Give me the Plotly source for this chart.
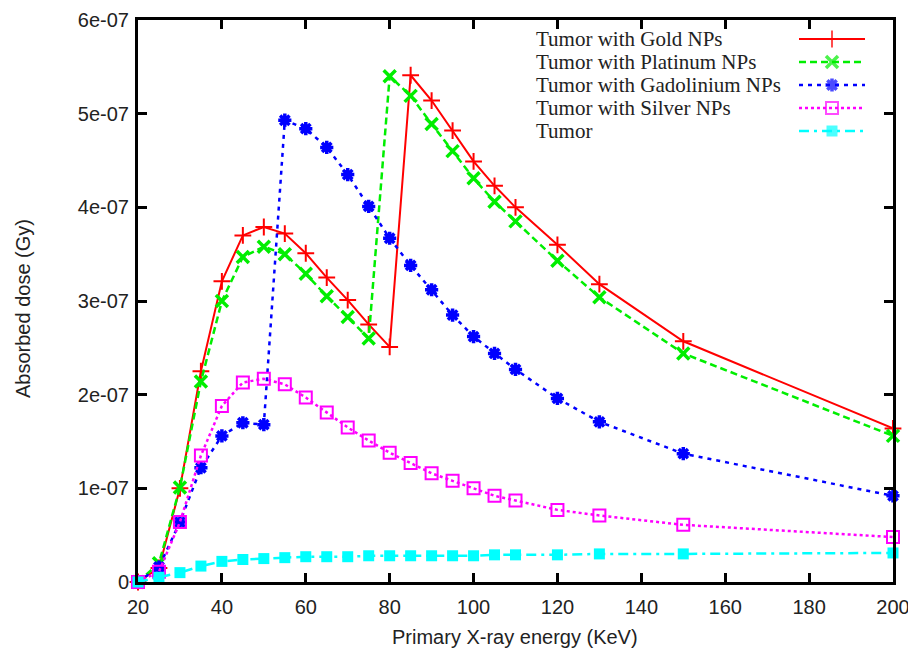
import plotly.graph_objects as go

energy = [20, 25, 30, 35, 40, 45, 50, 55, 60, 65, 70, 75, 80, 85, 90, 95, 100, 105, 110, 120, 130, 150, 200]

gold = [0.0, 0.15, 1.0, 2.25, 3.21, 3.70, 3.79, 3.72, 3.51, 3.25, 3.01, 2.75, 2.51,
        5.41, 5.14, 4.82, 4.49, 4.23, 4.00, 3.60, 3.18, 2.57, 1.64]
platinum = [0.0, 0.2, 1.01, 2.14, 3.00, 3.47, 3.58, 3.50, 3.29, 3.05, 2.83, 2.60, 5.40,
            5.19, 4.89, 4.60, 4.31, 4.06, 3.85, 3.43, 3.04, 2.44, 1.56]
gadolinium = [0.0, 0.16, 0.64, 1.22, 1.56, 1.70, 1.68, 4.93, 4.84, 4.64, 4.35, 4.01, 3.67,
              3.38, 3.12, 2.85, 2.62, 2.44, 2.27, 1.96, 1.71, 1.37, 0.92]
silver = [0.0, 0.11, 0.64, 1.35, 1.88, 2.13, 2.17, 2.11, 1.97, 1.81, 1.65, 1.51, 1.38,
          1.27, 1.16, 1.08, 1.00, 0.92, 0.87, 0.77, 0.71, 0.61, 0.48]
tumor = [0.0, 0.05, 0.10, 0.17, 0.22, 0.24, 0.25, 0.26, 0.27, 0.27, 0.27, 0.28, 0.28,
         0.28, 0.28, 0.28, 0.28, 0.29, 0.29, 0.29, 0.30, 0.30, 0.31]

names = ["Tumor with Gold NPs", "Tumor with Platinum NPs", "Tumor with Gadolinium NPs",
         "Tumor with Silver NPs", "Tumor"]

x_ticks = [20, 40, 60, 80, 100, 120, 140, 160, 180, 200]
y_ticks = [0, 1e-07, 2e-07, 3e-07, 4e-07, 5e-07, 6e-07]
y_ticktext = ["0", "1e-07", "2e-07", "3e-07", "4e-07", "5e-07", "6e-07"]
x_title = "Primary X-ray energy (KeV)"
y_title = "Absorbed dose (Gy)"

SCALE = 1e-07
series = [gold, platinum, gadolinium, silver, tumor]

styles = [
    dict(color="#ff0000", dash="solid", width=2, symbol="cross-thin", size=12, mlw=2),
    dict(color="#00ee00", dash="7px,4px", width=2.5, symbol="x-thin", size=12, mlw=3.5),
    dict(color="#0000ff", dash="4px,5px", width=2.5, symbol="asterisk", size=11, mlw=3.5),
    dict(color="#ff00ff", dash="3px,3px", width=2.5, symbol="square-open", size=12, mlw=2),
    dict(color="#00ffff", dash="10px,5px,3px,5px", width=2.5, symbol="square", size=11, mlw=0),
]

fig = go.Figure()

for vals, st, nm in zip(series, styles, names):
    marker = dict(symbol=st["symbol"], size=st["size"], color=st["color"],
                  line=dict(color=st["color"], width=st["mlw"]))
    fig.add_trace(go.Scatter(
        x=energy, y=[v * SCALE for v in vals], mode="lines+markers", name=nm,
        line=dict(color=st["color"], dash=st["dash"], width=st["width"]),
        marker=marker, showlegend=False, cliponaxis=False))

# page body has an 8px margin; figure sized so the plot lands where the reference's does
OFF = 8
L, R, T, B = 138, 893, 20, 582          # plot area in viewport pixels
W, H = 916 - OFF, 655 - OFF
def px(xp):
    return (xp - L) / (R - L)
def py(yp):
    return (B - yp) / (B - T)

rows = [39, 62, 85, 108, 131]
for nm, st, yr in zip(names, styles, rows):
    fig.add_annotation(x=px(534), y=py(yr), xref="paper", yref="paper", text=nm,
                       showarrow=False, xanchor="left", yanchor="middle",
                       font=dict(family="Liberation Serif", size=21, color="#222"))
    fig.add_trace(go.Scatter(
        x=[px(799), px(832), px(865)], y=[py(yr)] * 3, xaxis="x2", yaxis="y2",
        mode="lines+markers", showlegend=False, hoverinfo="skip",
        line=dict(color=st["color"], dash=st["dash"], width=st["width"]),
        marker=dict(symbol=st["symbol"], size=[0, st["size"], 0], color=st["color"],
                    line=dict(color=st["color"], width=st["mlw"]))))

axis_font = dict(family="Liberation Sans", size=20, color="#222")

fig.add_annotation(x=px(515), y=py(637), xref="paper", yref="paper", text=x_title,
                   showarrow=False, xanchor="center", yanchor="middle", font=axis_font)
fig.add_annotation(x=px(23), y=py(309), xref="paper", yref="paper", text=y_title,
                   showarrow=False, xanchor="center", yanchor="middle", textangle=-90,
                   font=axis_font)

fig.update_layout(
    width=W, height=H, autosize=False,
    paper_bgcolor="white", plot_bgcolor="white",
    margin=dict(l=L - OFF, r=W - (R - OFF), t=T - OFF, b=H - (B - OFF), autoexpand=False),
    xaxis=dict(range=[20, 200], tickvals=x_ticks, ticks="inside", ticklen=9, tickwidth=3,
               tickcolor="black", showline=True, linewidth=3, linecolor="black",
               mirror="ticks", showgrid=False, zeroline=False, tickfont=axis_font,
               ticklabelstandoff=5, ticklabeloverflow="allow", automargin=False),
    yaxis=dict(range=[0, 6e-07], tickvals=y_ticks, ticktext=y_ticktext, ticks="inside",
               ticklen=9, tickwidth=3, tickcolor="black", showline=True, linewidth=3,
               linecolor="black", mirror="ticks", showgrid=False, zeroline=False,
               tickfont=axis_font, ticklabelstandoff=2, ticklabeloverflow="allow",
               automargin=False),
    xaxis2=dict(range=[0, 1], overlaying="x", visible=False, fixedrange=True),
    yaxis2=dict(range=[0, 1], overlaying="y", visible=False, fixedrange=True),
)

fig.write_html("out.html")
